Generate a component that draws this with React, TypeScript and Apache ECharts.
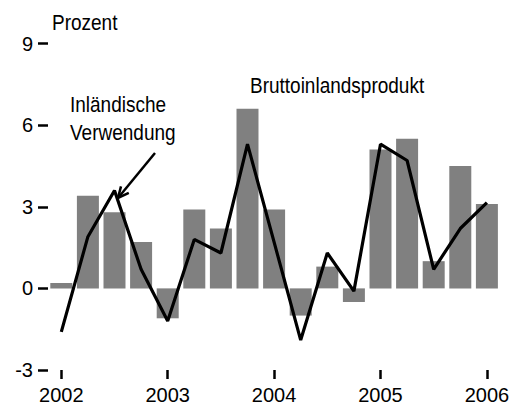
import React, { useEffect, useRef } from "react";
import * as echarts from "echarts";

const quarters = [
  "2002 Q1", "2002 Q2", "2002 Q3", "2002 Q4",
  "2003 Q1", "2003 Q2", "2003 Q3", "2003 Q4",
  "2004 Q1", "2004 Q2", "2004 Q3", "2004 Q4",
  "2005 Q1", "2005 Q2", "2005 Q3", "2005 Q4",
  "2006 Q1",
];
const gdp = [0.2, 3.4, 2.8, 1.7, -1.1, 2.9, 2.2, 6.6, 2.9, -1.0, 0.8, -0.5, 5.1, 5.5, 1.0, 4.5, 3.1];
const domesticDemand = [-1.6, 1.9, 3.6, 0.7, -1.2, 1.8, 1.3, 5.3, 1.7, -1.9, 1.3, -0.1, 5.3, 4.7, 0.7, 2.2, 3.15];
const yTicks = [-3, 0, 3, 6, 9];

const FONT = "'Liberation Sans', Arial, sans-serif";

export default function App() {
  const ref = useRef<HTMLDivElement>(null);
  useEffect(() => {
    if (!ref.current) return;
    const chart = echarts.init(ref.current, undefined, { renderer: "svg" });
    const isYear = (i: number) => i % 4 === 0;
    chart.setOption({
      animation: false,
      backgroundColor: "#ffffff",
      grid: { left: 48, right: 7, top: 43.5, bottom: 36, containLabel: false },
      xAxis: {
        type: "category",
        data: quarters,
        boundaryGap: true,
        axisLine: { show: false, onZero: false },
        axisTick: {
          show: true,
          alignWithLabel: true,
          interval: (i: number) => isYear(i),
          length: 9,
          lineStyle: { color: "#000", width: 2.5 },
        },
        axisLabel: {
          interval: (i: number) => isYear(i),
          formatter: (v: string) => v.slice(0, 4),
          color: "#000",
          fontFamily: FONT,
          fontSize: 20,
          margin: 15,
        },
        splitLine: { show: false },
      },
      yAxis: {
        type: "value",
        min: yTicks[0],
        max: yTicks[yTicks.length - 1],
        interval: 3,
        axisLine: { show: false },
        axisTick: { show: true, length: 10, lineStyle: { color: "#000", width: 2.5 } },
        axisLabel: { color: "#000", fontFamily: FONT, fontSize: 20, margin: 15 },
        splitLine: { show: false },
      },
      series: [
        {
          name: "Bruttoinlandsprodukt",
          type: "bar",
          data: gdp,
          barWidth: 22,
          itemStyle: { color: "#808080" },
        },
        {
          name: "Inländische Verwendung",
          type: "line",
          data: domesticDemand,
          symbol: "none",
          lineStyle: { color: "#000", width: 3.2 },
          z: 3,
        },
      ],
      graphic: [
        {
          type: "text", x: 52, y: 23, scaleY: 1.14,
          style: { text: "Prozent", fill: "#000", font: `19px ${FONT}`, verticalAlign: "middle" },
        },
        {
          type: "text", x: 70, y: 105, scaleY: 1.14,
          style: { text: "Inländische", fill: "#000", font: `19px ${FONT}`, verticalAlign: "middle" },
        },
        {
          type: "text", x: 70, y: 133, scaleY: 1.14,
          style: { text: "Verwendung", fill: "#000", font: `19px ${FONT}`, verticalAlign: "middle" },
        },
        {
          type: "text", x: 250, y: 86, scaleY: 1.14,
          style: { text: "Bruttoinlandsprodukt", fill: "#000", font: `19px ${FONT}`, verticalAlign: "middle" },
        },
        {
          type: "line",
          shape: { x1: 155, y1: 153, x2: 118, y2: 198 },
          style: { stroke: "#000", lineWidth: 2.5 },
          z: 10,
        },
        {
          type: "polyline",
          shape: { points: [[121, 186.4], [118, 198], [128.8, 192.8]] },
          style: { stroke: "#000", lineWidth: 2.5, fill: null },
          z: 10,
        },
      ],
    });
    return () => chart.dispose();
  }, []);
  return (
    <div
      ref={ref}
      style={{ position: "fixed", left: 0, top: 0, width: 512, height: 406 }}
    />
  );
}
